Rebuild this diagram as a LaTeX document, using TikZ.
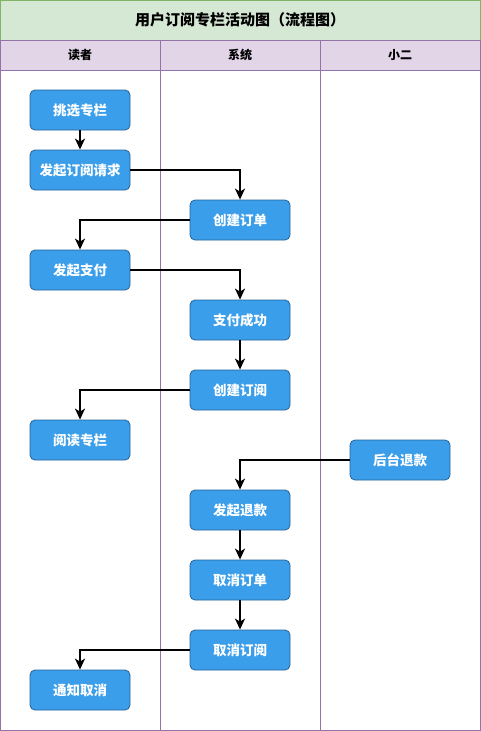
\documentclass[tikz,border=0pt]{standalone}
\usepackage{fontspec}
\setmainfont{Noto Sans CJK SC}
\usepackage{xcolor}
\usepackage{tikz}
\usetikzlibrary{arrows.meta}
\definecolor{titlegreen}{RGB}{213,232,212}
\definecolor{titleedge}{RGB}{130,179,102}
\definecolor{lanepurple}{RGB}{225,213,231}
\definecolor{laneedge}{RGB}{150,115,166}
\definecolor{actblue}{RGB}{58,158,234}
\definecolor{actedge}{RGB}{36,96,150}
\tikzset{
  act/.style={rounded corners=5pt, draw=actedge, line width=0.8pt, fill=actblue, text=white, align=center,
    minimum width=100pt, minimum height=40pt, inner sep=2pt, font=\fontsize{13.5}{15}\selectfont\bfseries},
  flow/.style={-{Stealth[length=11pt,width=10pt,inset=3pt]}, line width=1.6pt, draw=black},
  lane/.style={draw=laneedge, line width=0.8pt},
}

\begin{document}
\begin{tikzpicture}[x=1pt,y=-1pt]
    \useasboundingbox (0,0) rectangle (481,731);
    % title and lane headers
    \filldraw[fill=titlegreen, draw=titleedge, line width=0.8pt] (0.5,0.5) rectangle (480.5,40);
    \node[font=\fontsize{15}{17}\selectfont\bfseries] (title) at (240,20) {用户订阅专栏活动图（流程图）};
    \fill[lanepurple] (0.5,40) rectangle (480.5,70);
    \foreach \x in {0.5,160,320,480.5}{
      \draw[lane] (\x,40) -- (\x,730.5);
    }
    \draw[lane] (0.5,40) -- (480.5,40);
    \draw[lane] (0.5,70) -- (480.5,70);
    \draw[lane] (0.5,730.5) -- (480.5,730.5);
    \foreach \x/\lab/\nm in {80/读者/reader, 240/系统/system, 400/小二/admin}{
      \node[font=\fontsize{12}{14}\selectfont\bfseries] (\nm) at (\x,55) {\lab};
    }
    % activities
    \node[act] (pick) at (80,110) {挑选专栏};
    \node[act] (req) at (80,170) {发起订阅请求};
    \node[act] (order) at (240,220) {创建订单};
    \node[act] (pay) at (80,270) {发起支付};
    \node[act] (paid) at (240,320) {支付成功};
    \node[act] (sub) at (240,390) {创建订阅};
    \node[act] (read) at (80,440) {阅读专栏};
    \node[act] (refund) at (400,460) {后台退款};
    \node[act] (startref) at (240,510) {发起退款};
    \node[act] (cancelord) at (240,580) {取消订单};
    \node[act] (cancelsub) at (240,650) {取消订阅};
    \node[act] (notify) at (80,690) {通知取消};
    % flow
    \draw[flow] (pick) -- (req);
    \draw[flow] (req.east) -| (order.north);
    \draw[flow] (order.west) -| (pay.north);
    \draw[flow] (pay.east) -| (paid.north);
    \draw[flow] (paid) -- (sub);
    \draw[flow] (sub.west) -| (read.north);
    \draw[flow] (refund.west) -| (startref.north);
    \draw[flow] (startref) -- (cancelord);
    \draw[flow] (cancelord) -- (cancelsub);
    \draw[flow] (cancelsub.west) -| (notify.north);
\end{tikzpicture}
\end{document}
